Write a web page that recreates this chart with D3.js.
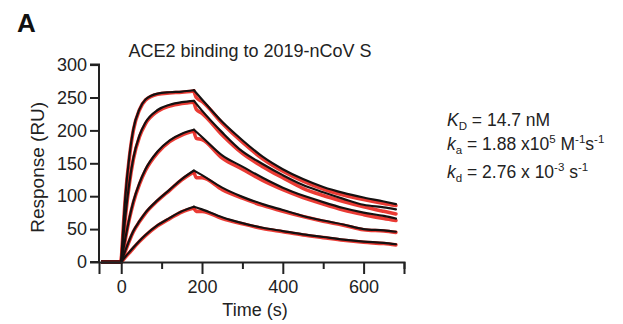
<!DOCTYPE html>
<html>
<head>
<meta charset="utf-8">
<script src="https://cdn.jsdelivr.net/npm/d3@7/dist/d3.min.js"></script>
<style>
  html, body { margin: 0; padding: 0; background: #fff; }
  svg { display: block; font-family: "Liberation Sans", Arial, sans-serif; }
</style>
</head>
<body>
<svg id="chart" width="623" height="324"></svg>
<script>
// Time grids (s)
const fitTimes  = [0, 10, 20, 30, 45, 60, 90, 120, 150, 180, 200, 250, 300, 350, 400, 450, 500, 550, 600, 650, 680];
const dataTimes = [-50, 0, 10, 20, 30, 45, 60, 90, 120, 150, 180, 186, 200, 250, 300, 350, 400, 450, 500, 550, 600, 650, 680];

// 1:1 fitted curves (RU), highest to lowest analyte concentration
const fit1 = [0, 98, 160, 202, 232, 247, 256, 258, 259, 261, 247, 213, 185, 160, 141, 126, 114, 105, 98, 92, 88];
const fit2 = [0, 68, 120, 158, 192, 212, 231, 239, 243, 245, 230, 197, 168, 149, 132, 117, 106, 96, 87, 83, 80];
const fit3 = [0, 35, 66, 92, 120, 141, 168, 185, 195, 201, 190, 162, 145, 128, 113, 101, 91, 82, 75, 70, 66];
const fit4 = [0, 17, 33, 47, 62, 75, 94, 110, 126, 139, 132, 113, 99, 88, 79, 70, 63, 57, 50, 48, 46];
const fit5 = [0, 8, 15, 22, 32, 41, 56, 67, 77, 84, 80, 68, 59, 52, 47, 42, 38, 34, 31, 29, 27];

// Measured sensorgrams (RU)
const data1 = [0, 0, 96, 158, 200, 231, 246, 255, 257, 258, 260, 250, 244, 211, 182, 157, 138, 123, 111, 102, 95, 89, 86];
const data2 = [0, 0, 66, 118, 156, 190, 210, 229, 237, 241, 243, 232, 226, 193, 165, 145, 128, 112, 101, 92, 84, 77, 73];
const data3 = [0, 0, 34, 65, 90, 118, 139, 166, 183, 193, 199, 188, 186, 158, 141, 124, 110, 98, 88, 79, 72, 66, 63];
const data4 = [0, 0, 16, 32, 46, 61, 74, 93, 109, 125, 137, 128, 128, 110, 97, 86, 77, 69, 62, 56, 49, 47, 45];
const data5 = [0, 0, 7, 14, 21, 31, 40, 55, 66, 76, 82, 77, 77, 66, 58, 51, 46, 41, 37, 33, 30, 28, 26];

const fitSeries  = [fit1, fit2, fit3, fit4, fit5];
const dataSeries = [data1, data2, data3, data4, data5];

// Axis ticks
const yTicks = [0, 50, 100, 150, 200, 250, 300];
const xMajorTicks = [0, 200, 400, 600];
const xMinorTicks = [100, 300, 500, 700];

const titleText = "ACE2 binding to 2019-nCoV S";
const panelLetter = "A";
const xLabel = "Time (s)";
const yLabel = "Response (RU)";

const svg = d3.select("#chart");
svg.append("rect").attr("width", 623).attr("height", 324).attr("fill", "#fff");

const x = d3.scaleLinear().domain([-55, 700]).range([99, 404]);
const y = d3.scaleLinear().domain([0, 300]).range([262, 64.6]);

// Split each trace into baseline, association and dissociation phases
function segments(times, vals) {
  const pts = times.map((t, i) => [t, vals[i]]);
  return {
    base: pts.filter(p => p[0] <= 0),
    assoc: pts.filter(p => p[0] >= 0 && p[0] <= 180),
    dissoc: pts.filter(p => p[0] >= 180)
  };
}
const line = d3.line().x(d => x(d[0])).y(d => y(d[1])).curve(d3.curveMonotoneX);

const plot = svg.append("g");

// measured data (red)
dataSeries.forEach(vals => {
  const s = segments(dataTimes, vals);
  [s.assoc, s.dissoc].forEach(seg => {
    plot.append("path").attr("d", line(seg))
      .attr("fill", "none").attr("stroke", "#e8261e")
      .attr("stroke-width", 3.6).attr("stroke-linejoin", "round")
      .attr("stroke-linecap", "round").attr("opacity", 0.9);
  });
  plot.append("path").attr("d", line(s.base))
    .attr("fill", "none").attr("stroke", "#5a1414").attr("stroke-width", 3.4);
});
// fitted curves (black)
fitSeries.forEach(vals => {
  const s = segments(fitTimes, vals);
  [s.assoc, s.dissoc].forEach(seg => {
    plot.append("path").attr("d", line(seg))
      .attr("fill", "none").attr("stroke", "#151010")
      .attr("stroke-width", 2.2).attr("stroke-linejoin", "round")
      .attr("stroke-linecap", "round");
  });
});

// Y axis
const yAxis = svg.append("g").attr("transform", `translate(${x(-55)},0)`)
  .call(d3.axisLeft(y).tickValues(yTicks).tickSize(9).tickPadding(3).tickFormat(d3.format("d")));
// X axis: major and minor ticks
const xAxis = svg.append("g").attr("transform", `translate(0,${y(0)})`)
  .call(d3.axisBottom(x).tickValues(xMajorTicks).tickSize(12).tickPadding(6).tickFormat(d3.format("d")));
const xMinor = svg.append("g").attr("transform", `translate(0,${y(0)})`)
  .call(d3.axisBottom(x).tickValues(xMinorTicks).tickSize(7).tickFormat(""));
xMinor.select(".domain").remove();

[yAxis, xAxis, xMinor].forEach(g => {
  g.selectAll(".domain").attr("stroke", "#222").attr("stroke-width", 2);
  g.selectAll(".tick line").attr("stroke", "#222").attr("stroke-width", 2);
  g.selectAll(".tick text").attr("fill", "#222").attr("font-size", 18)
    .attr("font-family", "'Liberation Sans', Arial, sans-serif");
});
yAxis.select(".domain").attr("d", `M-9,${y(300)}H0V${y(0)}H-9`);

// Title and labels
svg.append("text").attr("x", 250).attr("y", 57).attr("text-anchor", "middle")
  .attr("font-size", 18).attr("fill", "#222").text(titleText);
svg.append("text").attr("x", 17).attr("y", 32).attr("font-size", 26)
  .attr("font-weight", "bold").attr("fill", "#111").text(panelLetter);
svg.append("text").attr("x", 255).attr("y", 316).attr("text-anchor", "middle")
  .attr("font-size", 18).attr("fill", "#222").text(xLabel);
svg.append("text").attr("transform", `translate(44,${(y(0) + y(300)) / 2 + 4}) rotate(-90)`)
  .attr("text-anchor", "middle").attr("font-size", 19).attr("fill", "#222").text(yLabel);

// Kinetic constants
const kinetics = [
  { base: "K", sub: "D", parts: [[" = 14.7 nM", 0]], y: 126 },
  { base: "k", sub: "a", parts: [[" = 1.88 x10", 0], ["5", 1], [" M", 0], ["-1", 1], ["s", 0], ["-1", 1]], y: 150 },
  { base: "k", sub: "d", parts: [[" = 2.76 x 10", 0], ["-3", 1], [" s", 0], ["-1", 1]], y: 178 }
];
kinetics.forEach(row => {
  const t = svg.append("text").attr("x", 447).attr("y", row.y)
    .attr("font-size", 17.5).attr("fill", "#222");
  t.append("tspan").attr("font-style", "italic").text(row.base);
  t.append("tspan").attr("font-size", 11.5).attr("dy", 4).text(row.sub);
  let level = -1; // subscript state
  row.parts.forEach(([txt, sup]) => {
    const ts = t.append("tspan");
    let dy = 0;
    if (level === -1) dy = -4;
    if (sup === 1 && level !== 1) dy += -7;
    if (sup === 0 && level === 1) dy += 7;
    level = sup;
    ts.attr("dy", dy).attr("font-size", sup ? 11.5 : 17.5).text(txt);
  });
});
</script>
</body>
</html>
